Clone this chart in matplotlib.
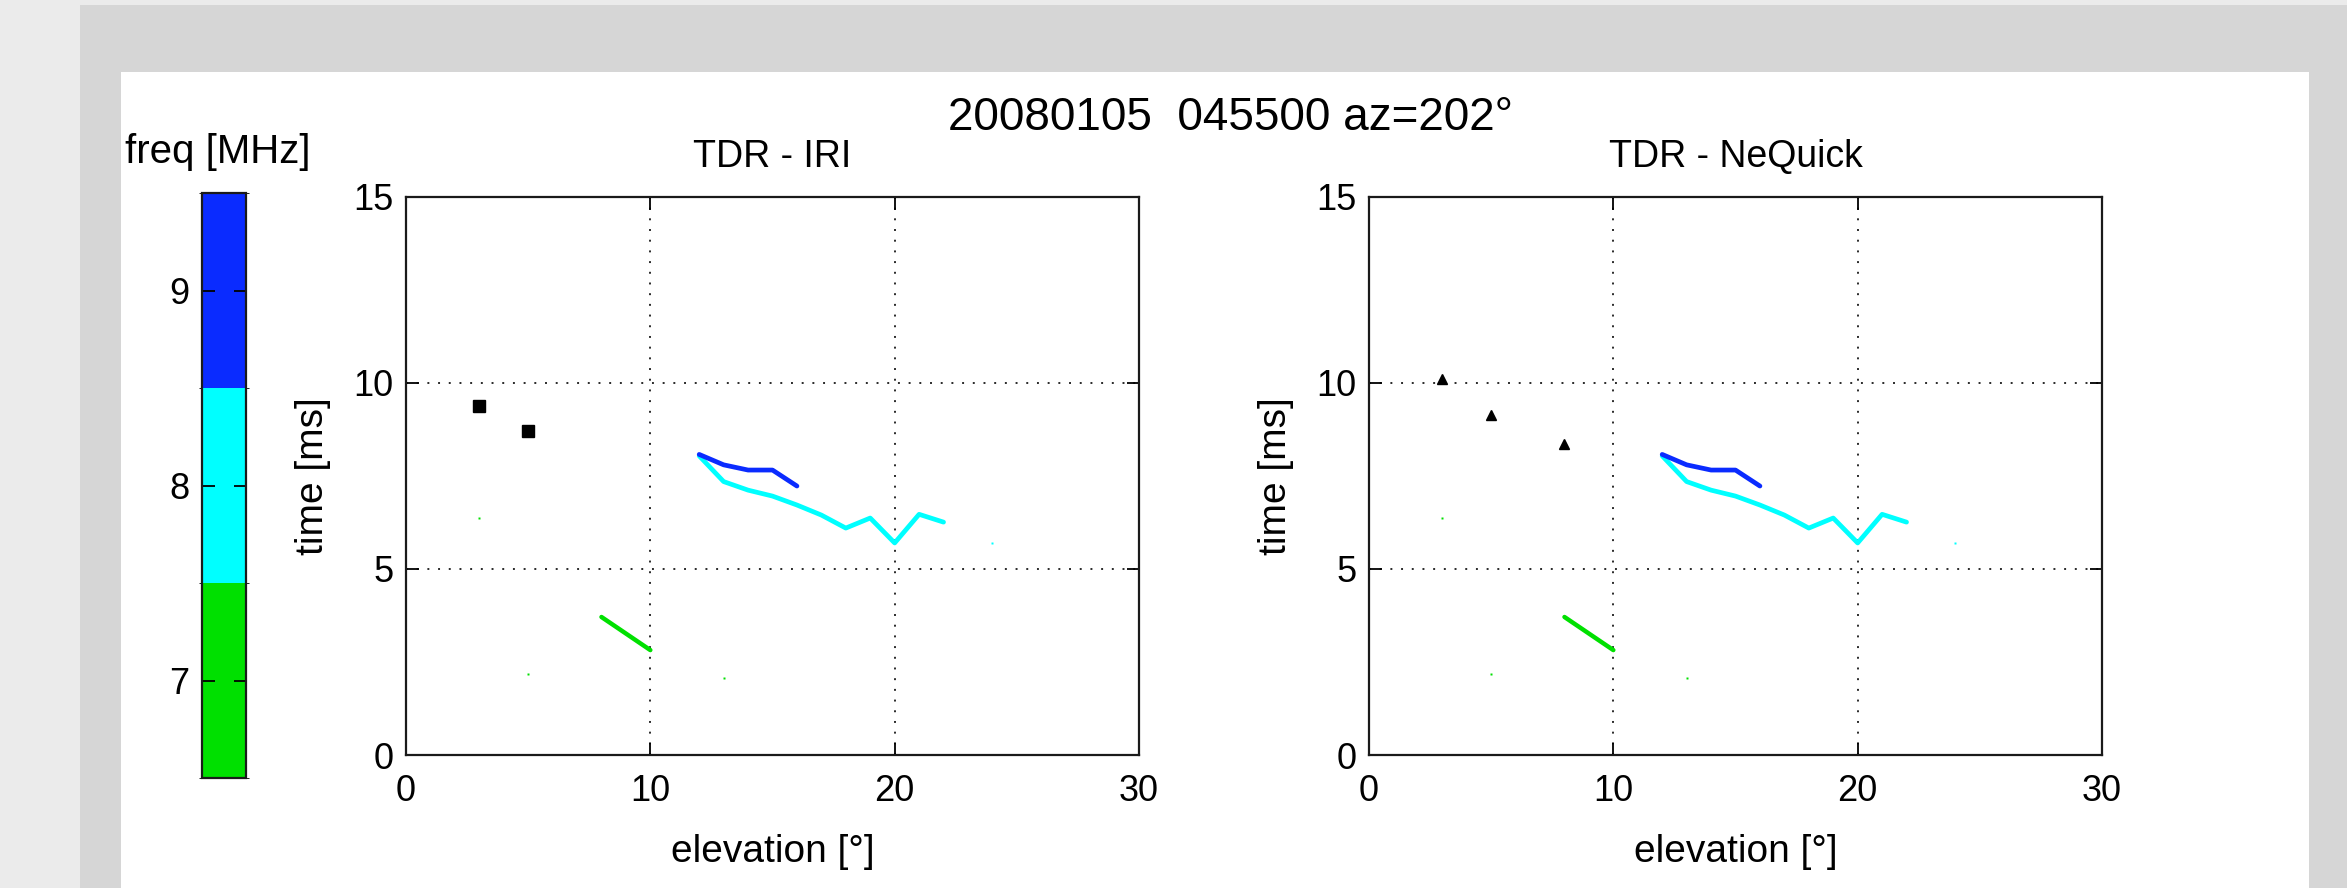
import matplotlib
matplotlib.use("Agg")
import matplotlib.pyplot as plt
from matplotlib.patches import Rectangle
from matplotlib.colors import ListedColormap, BoundaryNorm
from matplotlib.cm import ScalarMappable

plt.rcParams['font.family'] = ['Liberation Sans', 'DejaVu Sans']

# ---------------- data ----------------
main_title = "20080105  045500 az=202°"
panel_titles = ["TDR - IRI", "TDR - NeQuick"]
x_label = "elevation [°]"
y_label = "time [ms]"
cb_label = "freq [MHz]"

freq_bounds = [6.5, 7.5, 8.5, 9.5]
freq_ticks = [7, 8, 9]
freq_colors = ["#00e000", "#00ffff", "#0a2bff"]

x_ticks = [0, 10, 20, 30]
y_ticks = [0, 5, 10, 15]

# 9 MHz trace
blue_x = [12, 13, 14, 15, 16]
blue_y = [8.08, 7.80, 7.66, 7.66, 7.23]
# 8 MHz trace
cyan_x = [12, 13, 14, 15, 16, 17, 18, 19, 20, 21, 22]
cyan_y = [8.04, 7.35, 7.12, 6.96, 6.72, 6.45, 6.10, 6.37, 5.70, 6.47, 6.26]
cyan_dot_x = [24]
cyan_dot_y = [5.69]
# 7 MHz trace
green_x = [8, 10]
green_y = [3.71, 2.82]
green_dot_x = [3, 5, 13]
green_dot_y = [6.37, 2.18, 2.07]

# model points
iri_x = [3, 5]
iri_y = [9.38, 8.71]
neq_x = [3, 5, 8]
neq_y = [10.1, 9.14, 8.36]

# ---------------- figure ----------------
W, H = 2347, 888
fig = plt.figure(figsize=(W / 100, H / 100), dpi=100)
fig.patch.set_facecolor("#ebebeb")


def fx(px):
    return px / W


def fy(py):
    return 1 - py / H


fig.patches.append(Rectangle((fx(80), 0), fx(W) - fx(80), fy(5), transform=fig.transFigure,
                             facecolor="#d6d6d6", edgecolor="none", zorder=-10))
fig.patches.append(Rectangle((fx(121), 0), fx(2309) - fx(121), fy(72), transform=fig.transFigure,
                             facecolor="white", edgecolor="none", zorder=-9))

ax_top, ax_bot = 197, 755
ax_w = 733
lefts = [406, 1369]

axes = []
for i, L in enumerate(lefts):
    ax = fig.add_axes([fx(L), fy(ax_bot), ax_w / W, (ax_bot - ax_top) / H])
    axes.append(ax)
    ax.set_xlim(0, 30)
    ax.set_ylim(0, 15)
    ax.set_xticks(x_ticks)
    ax.set_yticks(y_ticks)
    ax.tick_params(direction="in", length=9, width=1.3, top=True, right=True,
                   labelsize=26, colors="black")
    ax.tick_params(axis="x", pad=14)
    ax.tick_params(axis="y", pad=9)
    for s in ax.spines.values():
        s.set_linewidth(1.6)
        s.set_color("#1a1a1a")
    ax.grid(True, color="#2a2a2a", linestyle=(0, (1, 4.5)), linewidth=1.4)
    ax.set_axisbelow(True)

    ax.plot(green_x, green_y, color=freq_colors[0], lw=3.2, solid_capstyle="round", zorder=3)
    ax.plot(green_dot_x, green_dot_y, linestyle="none", marker="s", ms=2,
            mec="none", color=freq_colors[0], zorder=3)
    ax.plot(cyan_x, cyan_y, color=freq_colors[1], lw=3.4, solid_capstyle="round",
            solid_joinstyle="round", zorder=3)
    ax.plot(cyan_dot_x, cyan_dot_y, linestyle="none", marker="s", ms=2,
            mec="none", color=freq_colors[1], zorder=3)
    ax.plot(blue_x, blue_y, color=freq_colors[2], lw=3.4, solid_capstyle="round",
            solid_joinstyle="round", zorder=4)

    if i == 0:
        ax.plot(iri_x, iri_y, linestyle="none", marker="s", ms=8, color="black", zorder=5)
    else:
        ax.plot(neq_x, neq_y, linestyle="none", marker="^", ms=6.5, color="black", zorder=5)

    cx = L + ax_w / 2
    fig.text(fx(cx), fy(167), panel_titles[i], ha="center", va="baseline", fontsize=27)
    fig.text(fx(cx), fy(852), x_label, ha="center", va="center", fontsize=28)
    fig.text(fx(L - 93), fy((ax_top + ax_bot) / 2), y_label, ha="center", va="center",
             rotation=90, fontsize=28)

fig.text(fx(1230), fy(130), main_title, ha="center", va="baseline", fontsize=33)

# ---------------- colour bar ----------------
cb_top, cb_bot = 193, 778
cax = fig.add_axes([fx(202), fy(cb_bot), 44 / W, (cb_bot - cb_top) / H])
cmap = ListedColormap(freq_colors)
norm = BoundaryNorm(freq_bounds, cmap.N)
cb = fig.colorbar(ScalarMappable(norm=norm, cmap=cmap), cax=cax, ticks=freq_ticks)
cb.outline.set_linewidth(1.6)
cb.outline.set_edgecolor("#1a1a1a")
cax.yaxis.set_ticks_position("both")
cax.tick_params(direction="in", length=9, width=1.3, left=True, right=True,
                labelleft=True, labelright=False, labelsize=26, pad=9)
cax.set_yticklabels([str(t) for t in freq_ticks])
fig.text(fx(218), fy(163), cb_label, ha="center", va="baseline", fontsize=29)

fig.savefig("out.png", dpi=100, facecolor=fig.get_facecolor())
